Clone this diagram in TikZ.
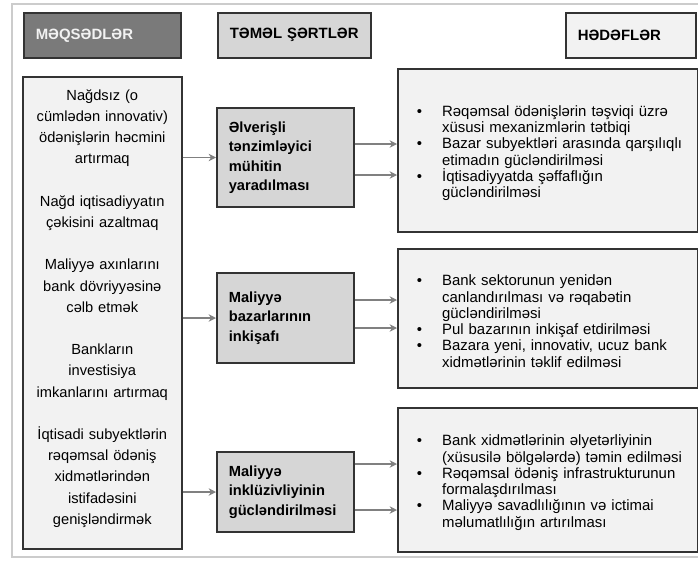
\documentclass[tikz,border=0pt]{standalone}
\usepackage{fontspec}
\setmainfont{Liberation Sans}
\usetikzlibrary{arrows.meta}
\newcommand{\tgitem}[1]{\par\noindent\hangindent=23.25pt\hangafter=1\hspace*{4.25pt}\makebox[19pt][l]{\textbullet}#1}
\begin{document}
\begin{tikzpicture}[x=0.75pt,y=-0.75pt,
	hdr/.style={draw=black!80, line width=1.2pt, anchor=north west, minimum height=33.75pt, inner xsep=9pt, text width=#1, align=left, font=\bfseries\fontsize{11.2}{13}\selectfont},
	goalbox/.style={draw=black!80, line width=1.2pt, fill=black!5, anchor=north west, inner sep=0pt, text width=119.25pt, minimum height=354pt, align=center, font=\fontsize{11}{15.9}\selectfont},
	basebox/.style={draw=black!80, line width=1.2pt, fill=black!16, anchor=west, inner xsep=9pt, text width=84.75pt, align=left, font=\bfseries\fontsize{11}{14.6}\selectfont},
	tgbox/.style={draw=black!80, line width=1.2pt, fill=black!5, anchor=west, inner xsep=10pt, text width=205pt, align=left, font=\fontsize{11.2}{12.2}\selectfont},
	flow/.style={-{Stealth[length=5.5pt,width=5.5pt]}, draw=black!50, line width=1.3pt}]
		\useasboundingbox (0,0) rectangle (698,560);
		\draw[black!20, line width=1.5pt] (12,4) rectangle (720,557);
		%
		% Titres
		%
		\node[hdr=99.75pt, fill=black!52, text=black!5] (hgoal) at (23,12) {MƏQSƏDLƏR};
		\node[hdr=96.75pt, fill=black!16] (hbase) at (217,12) {TƏMƏL ŞƏRTLƏR};
		\node[hdr=79.5pt, fill=black!5] (htarget) at (565,12) {HƏDƏFLƏR};
		%
		\node[goalbox] (goals) at (22,76) {Nağdsız (o\\cümlədən innovativ)\\ödənişlərin həcmini\\artırmaq\\[15.9pt]Nağd iqtisadiyyatın\\çəkisini azaltmaq\\[15.9pt]Maliyyə axınlarını\\bank dövriyyəsinə\\cəlb etmək\\[15.9pt]Bankların\\investisiya\\imkanlarını artırmaq\\[15.9pt]İqtisadi subyektlərin\\rəqəmsal ödəniş\\xidmətlərindən\\istifadəsini\\genişləndirmək\\[-7pt]\mbox{}};
		%
		\node[basebox, minimum height=74.25pt] (m1) at (216,157.5) {Əlverişli\\tənzimləyici\\mühitin\\yaradılması};
		\node[basebox, minimum height=67.5pt] (m2) at (216,318) {Maliyyə\\bazarlarının\\inkişafı};
		\node[basebox, minimum height=60pt] (m3) at (216,492) {Maliyyə\\inklüzivliyinin\\gücləndirilməsi};
		%
		\node[tgbox, minimum height=122.25pt] (t1) at (397,150.5) {\tgitem{Rəqəmsal ödənişlərin təşviqi üzrə\newline xüsusi mexanizmlərin tətbiqi}\tgitem{Bazar subyektləri arasında qarşılıqlı\newline etimadın gücləndirilməsi}\tgitem{İqtisadiyyatda şəffaflığın\newline gücləndirilməsi}\par};
		\node[tgbox, minimum height=104.25pt] (t2) at (397,318.5) {\tgitem{Bank sektorunun yenidən\newline canlandırılması və rəqabətin\newline gücləndirilməsi}\tgitem{Pul bazarının inkişaf etdirilməsi}\tgitem{Bazara yeni, innovativ, ucuz bank\newline xidmətlərinin təklif edilməsi}\par\vspace{22.5pt}};
		\node[tgbox, minimum height=108pt] (t3) at (397,480) {\tgitem{Bank xidmətlərinin əlyetərliyinin\newline (xüsusilə bölgələrdə) təmin edilməsi}\tgitem{Rəqəmsal ödəniş infrastrukturunun\newline formalaşdırılması}\tgitem{Maliyyə savadlılığının və ictimai\newline məlumatlılığın artırılması}\par};
		%
		% Flèches
		%
		\foreach \m in {m1,m2,m3}{
			\draw[flow] (goals.east |- \m.west) -- (\m.west);
		}
		\foreach \m/\t/\y in {m1/t1/144,m1/t1/175,m2/t2/300,m2/t2/328,m3/t3/464,m3/t3/510}{
			\draw[flow] (\m.east |- 0,\y) -- (\t.west |- 0,\y);
		}
	\end{tikzpicture}
\end{document}
